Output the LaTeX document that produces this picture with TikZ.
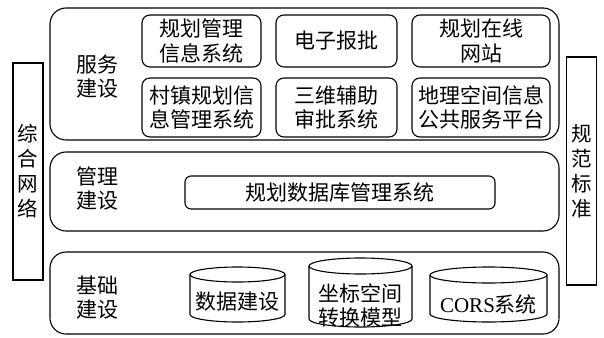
\documentclass[tikz,border=0pt]{standalone}
\usepackage{fontspec}
\setmainfont{Liberation Serif}
\newfontfamily\cjk{Noto Sans CJK SC}
\begin{document}
\begin{tikzpicture}[x=1pt,y=-1pt,
  lw/.style={line width=1.1pt},
  bigbox/.style={lw,draw,rounded corners=16pt,minimum width=509pt,inner sep=0pt},
  inbox/.style={lw,draw,rounded corners=8pt,inner sep=0pt,align=center,font=\cjk\fontsize{21}{24.5}\selectfont},
  sidebar/.style={lw,draw,minimum width=30pt,inner sep=0pt,align=center,font=\cjk\fontsize{20.5}{25}\selectfont},
  lbl/.style={inner sep=0pt,align=center,font=\cjk\fontsize{21}{24}\selectfont},
  cyltext/.style={inner sep=0pt,align=center,font=\cjk\fontsize{21}{24}\selectfont}]
\useasboundingbox (0,0) rectangle (604,337);
% side bars
\node[sidebar,minimum height=217pt] (net) at (28,171.5) {综\\合\\网\\络};
\node[sidebar,minimum height=228pt] (std) at (581.5,171) {规\\范\\标\\准};
% layers
\node[bigbox,minimum height=132pt] (svc) at (304.5,74) {};
\node[bigbox,minimum height=79pt] (mgt) at (304.5,191.5) {};
\node[bigbox,minimum height=82pt] (base) at (304.5,293) {};
\node[lbl] (svcl) at (97,77) {服务\\建设};
\node[lbl] (mgtl) at (97,189) {管理\\建设};
\node[lbl] (basel) at (97,297.5) {基础\\建设};
% service boxes
\node[inbox,minimum width=119pt,minimum height=52pt] (b1) at (201.5,41) {规划管理\\信息系统};
\node[inbox,minimum width=121pt,minimum height=52pt] (b2) at (336.5,41) {电子报批};
\node[inbox,minimum width=138pt,minimum height=52pt] (b3) at (481,41) {规划在线\\网站};
\node[inbox,minimum width=119pt,minimum height=59pt] (b4) at (201.5,107.5) {村镇规划信\\息管理系统};
\node[inbox,minimum width=121pt,minimum height=59pt] (b5) at (336.5,107.5) {三维辅助\\审批系统};
\node[inbox,minimum width=138pt,minimum height=59pt] (b6) at (481,107.5) {地理空间信息\\公共服务平台};
% management
\node[inbox,rounded corners=6pt,minimum width=310pt,minimum height=33pt] (db) at (340,192.5) {规划数据库管理系统};
% cylinders
\draw[lw] (190,274.5) -- (190,314.5) arc[start angle=180,end angle=360,x radius=47.5pt,y radius=7.5pt] -- (285,274.5);
\draw[lw] (237.5,274.5) ellipse[x radius=47.5pt,y radius=7.5pt];
\node[cyltext] (c1) at (237.5,302) {数据建设};
\draw[lw] (309,266) -- (309,319) arc[start angle=180,end angle=360,x radius=51.5pt,y radius=8pt] -- (412,266);
\draw[lw] (360.5,266) ellipse[x radius=51.5pt,y radius=8pt];
\node[cyltext] (c2) at (360.5,305) {坐标空间\\转换模型};
\draw[lw] (430,275) -- (430,314) arc[start angle=180,end angle=360,x radius=58.5pt,y radius=8pt] -- (547,275);
\draw[lw] (488.5,275) ellipse[x radius=58.5pt,y radius=8pt];
\node[cyltext] (c3) at (488.5,304) {{\rmfamily CORS}系统};
\end{tikzpicture}
\end{document}
